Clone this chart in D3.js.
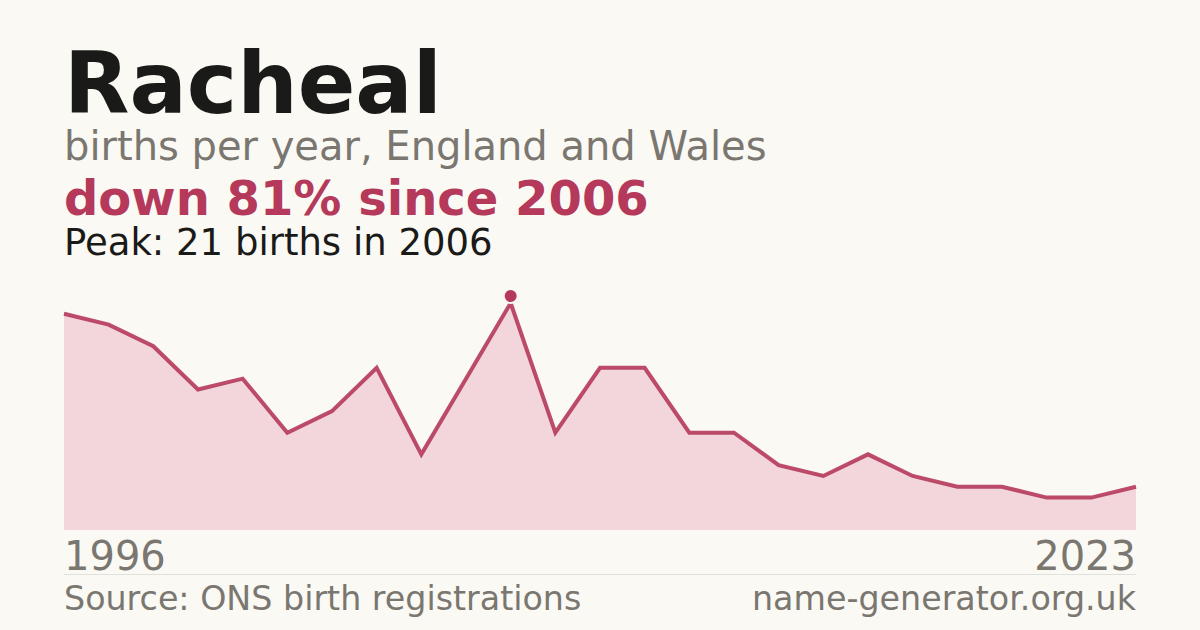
<!DOCTYPE html><html><head><meta charset="utf-8"><script src="https://cdn.jsdelivr.net/npm/d3@7"></script>
<style>body{margin:0;background:#faf9f4}</style></head><body><svg id="c" width="1200" height="630"></svg>
<script>
const values=[20,19,17,13,14,9,11,15,7,14,21,9,15,15,9,9,6,5,7,5,4,4,3,3,4];
const startLabel="1996", endLabel="2023";
const peakIndex=10;
const svg=d3.select("#c");
svg.append("rect").attr("width",1200).attr("height",630).attr("fill","#faf9f4");
const f="DejaVu Sans, sans-serif";
const t=(x,y,s,sz,c,w,a)=>svg.append("text").attr("x",x).attr("y",y).text(s).attr("font-family",f).attr("font-size",sz).attr("fill",c).attr("font-weight",w||"normal").attr("text-anchor",a||"start");
t(64,113,"Racheal",85,"#1a1a18","bold");
t(64,160,"births per year, England and Wales",40,"#7a7670");
t(64,215,"down 81% since 2006",48,"#b5395a","bold");
t(64,255,"Peak: 21 births in 2006",37,"#1a1a18");
const x=d3.scaleLinear().domain([0,values.length-1]).range([64,1136]);
const y=d3.scaleLinear().domain([0,21]).range([530,303]);
svg.append("path").datum(values).attr("d",d3.area().x((d,i)=>x(i)).y0(530).y1(d=>y(d))).attr("fill","#f2d6db");
svg.append("path").datum(values).attr("d",d3.line().x((d,i)=>x(i)).y(d=>y(d))).attr("fill","none").attr("stroke","#b5395a").attr("stroke-width",4).attr("stroke-opacity",0.9);
svg.append("circle").attr("cx",x(peakIndex)).attr("cy",y(values[peakIndex])-7).attr("r",7).attr("fill","#b5395a").attr("stroke","#faf9f4").attr("stroke-width",2);
t(64,570,startLabel,40,"#7a7670");
t(1136,570,endLabel,40,"#7a7670","normal","end");
svg.append("line").attr("x1",64).attr("x2",1136).attr("y1",574.5).attr("y2",574.5).attr("stroke","#e2e0da");
t(64,610,"Source: ONS birth registrations",33.3,"#7a7670");
t(1136,610,"name-generator.org.uk",33.3,"#7a7670","normal","end");
</script></body></html>
